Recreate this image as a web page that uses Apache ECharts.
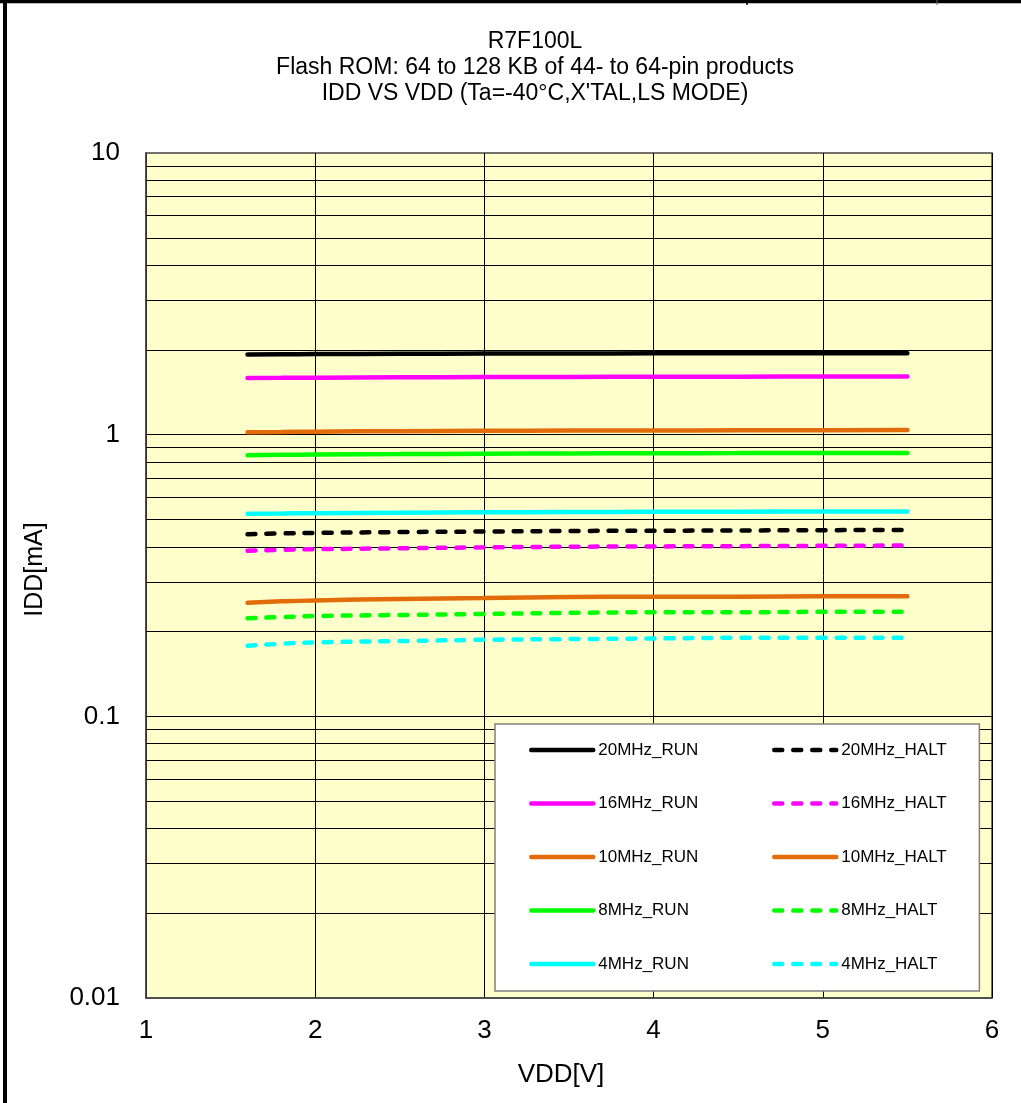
<!DOCTYPE html>
<html>
<head>
<meta charset="utf-8">
<script src="https://cdn.jsdelivr.net/npm/echarts@6/dist/echarts.min.js"></script>
<style>
html,body{margin:0;padding:0;background:#fff;}
#chart{width:1021px;height:1103px;}
</style>
</head>
<body>
<div id="chart"></div>
<script>
var vdd = [1.6, 1.8, 2.0, 2.5, 3.0, 3.5, 4.0, 4.5, 5.0, 5.5];
var run20  = [1.927, 1.930, 1.933, 1.937, 1.940, 1.942, 1.944, 1.945, 1.946, 1.947];
var run16  = [1.588, 1.591, 1.594, 1.598, 1.601, 1.603, 1.605, 1.607, 1.608, 1.609];
var run10  = [1.019, 1.022, 1.025, 1.029, 1.032, 1.034, 1.035, 1.036, 1.037, 1.038];
var run8   = [0.845, 0.848, 0.850, 0.853, 0.856, 0.858, 0.859, 0.860, 0.861, 0.861];
var run4   = [0.524, 0.525, 0.526, 0.528, 0.530, 0.531, 0.532, 0.533, 0.534, 0.534];
var halt20 = [0.443, 0.446, 0.448, 0.451, 0.453, 0.455, 0.456, 0.457, 0.458, 0.459];
var halt16 = [0.387, 0.390, 0.392, 0.395, 0.398, 0.400, 0.401, 0.402, 0.403, 0.404];
var halt10 = [0.253, 0.256, 0.258, 0.261, 0.263, 0.265, 0.266, 0.266, 0.267, 0.267];
var halt8  = [0.223, 0.225, 0.227, 0.229, 0.231, 0.233, 0.234, 0.234, 0.235, 0.235];
var halt4  = [0.178, 0.181, 0.183, 0.185, 0.187, 0.188, 0.189, 0.190, 0.190, 0.190];
var gridValues = [0.02,0.03,0.04,0.05,0.06,0.07,0.08,0.09,0.1,0.2,0.3,0.4,0.5,0.6,0.7,0.8,0.9,1,2,3,4,5,6,7,8,9];
var xTicks = [1, 2, 3, 4, 5, 6];
var yTicks = [0.01, 0.1, 1, 10];

var FONT = 'Liberation Sans, Arial, sans-serif';
var DASH = [8, 11];
var XMIN = xTicks[0], XMAX = xTicks[xTicks.length - 1];
var BOX = { left: 495, top: 724, width: 484, height: 267 };

function pairs(ys) { return vdd.map(function (x, i) { return [x, ys[i]]; }); }
function mk(name, ys, color, dashed) {
  return {
    name: name, type: 'line', data: pairs(ys), smooth: true,
    showSymbol: false, symbol: 'none', z: 3,
    lineStyle: { color: color, width: 4.5, type: dashed ? DASH : 'solid', cap: 'round' },
    itemStyle: { color: color }
  };
}
var legendCommon = {
  orient: 'vertical',
  itemWidth: 62, itemHeight: 14, itemGap: 33.5,
  itemStyle: { opacity: 0, color: 'rgba(0,0,0,0)', borderWidth: 0 },
  lineStyle: { width: 4.5 },
  textStyle: { fontFamily: FONT, fontSize: 17, color: '#000', lineHeight: 20 }
};

// horizontal grid lines; those crossing the legend box are split around it
function gridLines(inBox, xb1, xb2) {
  var out = [];
  gridValues.forEach(function (v) {
    if (inBox && inBox(v)) {
      out.push({ coords: [[XMIN, v], [xb1, v]] });
      out.push({ coords: [[xb2, v], [XMAX, v]] });
    } else {
      out.push({ coords: [[XMIN, v], [XMAX, v]] });
    }
  });
  return out;
}

var chart = echarts.init(document.getElementById('chart'), null, { renderer: 'canvas' });
var option = {
  backgroundColor: '#ffffff',
  animation: false,
  title: {
    text: "R7F100L\nFlash ROM: 64 to 128 KB of 44- to 64-pin products\nIDD VS VDD (Ta=-40°C,X'TAL,LS MODE)",
    left: 535, textAlign: 'center', top: 29, padding: 0,
    textStyle: { fontFamily: FONT, fontSize: 23, fontWeight: 'normal', lineHeight: 26, color: '#000' }
  },
  grid: {
    left: 146, right: 29, top: 153, bottom: 105,
    show: true, backgroundColor: '#FFFFCC', borderColor: '#444', borderWidth: 1.5
  },
  xAxis: {
    type: 'value', min: XMIN, max: XMAX, interval: 1,
    name: 'VDD[V]', nameLocation: 'middle', nameGap: 64,
    nameTextStyle: { fontFamily: FONT, fontSize: 26, color: '#000', padding: [0, 16, 0, 0] },
    axisLine: { show: true, lineStyle: { color: '#444', width: 1.5 } },
    axisTick: { show: false },
    axisLabel: { fontFamily: FONT, fontSize: 26, color: '#000', margin: 20 },
    splitLine: { show: true, lineStyle: { color: '#000', width: 1 } }
  },
  yAxis: {
    type: 'log', logBase: 10, min: yTicks[0], max: yTicks[yTicks.length - 1],
    name: 'IDD[mA]', nameLocation: 'middle', nameGap: 98, nameRotate: 90,
    nameTextStyle: { fontFamily: FONT, fontSize: 25, color: '#000', padding: [0, 0, 0, 12] },
    axisLine: { show: true, lineStyle: { color: '#444', width: 1.5 } },
    axisTick: { show: false },
    axisLabel: {
      fontFamily: FONT, fontSize: 26, color: '#000', margin: 26,
      formatter: function (v) { return String(+v.toPrecision(3)); }
    },
    splitLine: { show: false }
  },
  legend: [
    Object.assign({}, legendCommon, {
      data: ['20MHz_RUN', '16MHz_RUN', '10MHz_RUN', '8MHz_RUN', '4MHz_RUN'],
      left: BOX.left, top: BOX.top, z: 6,
      padding: [16, 281, 17, 34],
      backgroundColor: '#ffffff', borderColor: '#808080', borderWidth: 1.5
    }),
    Object.assign({}, legendCommon, {
      data: ['20MHz_HALT', '16MHz_HALT', '10MHz_HALT', '8MHz_HALT', '4MHz_HALT'],
      left: 772, top: 740, z: 8, padding: 0
    })
  ],
  graphic: {
    elements: [
      { type: 'line', shape: { x1: 5, y1: 0, x2: 5, y2: 1103 },
        style: { stroke: '#000', lineWidth: 4 } },
      { type: 'line', shape: { x1: 0, y1: 1.5, x2: 1021, y2: 1.5 },
        style: { stroke: '#000', lineWidth: 3.5 } },
      { type: 'line', shape: { x1: 747, y1: 0, x2: 747, y2: 5 },
        style: { stroke: '#000', lineWidth: 1.5 } },
      { type: 'line', shape: { x1: 937, y1: 0, x2: 937, y2: 5 },
        style: { stroke: '#666', lineWidth: 1 } }
    ]
  },
  series: [
    {
      id: 'hgrid', name: 'hgrid', type: 'lines', coordinateSystem: 'cartesian2d',
      z: 1, silent: true, polyline: false,
      lineStyle: { color: '#000', width: 1, opacity: 1, type: 'solid', curveness: 0 },
      data: gridLines(null)
    },
    mk('20MHz_RUN', run20, '#000000', false),
    mk('20MHz_HALT', halt20, '#000000', true),
    mk('16MHz_RUN', run16, '#FF00FF', false),
    mk('16MHz_HALT', halt16, '#FF00FF', true),
    mk('10MHz_RUN', run10, '#E36C0A', false),
    mk('10MHz_HALT', halt10, '#E36C0A', false),
    mk('8MHz_RUN', run8, '#00FF00', false),
    mk('8MHz_HALT', halt8, '#00FF00', true),
    mk('4MHz_RUN', run4, '#00FFFF', false),
    mk('4MHz_HALT', halt4, '#00FFFF', true)
  ]
};
chart.setOption(option);

// split grid lines around the legend box, using the chart's own scales
try {
  var xb1 = chart.convertFromPixel({ xAxisIndex: 0 }, BOX.left);
  var xb2 = chart.convertFromPixel({ xAxisIndex: 0 }, BOX.left + BOX.width);
  var inBox = function (v) {
    var py = chart.convertToPixel({ yAxisIndex: 0 }, v);
    return py >= BOX.top && py <= BOX.top + BOX.height;
  };
  if (isFinite(xb1) && isFinite(xb2)) {
    chart.setOption({ series: [{ id: 'hgrid', data: gridLines(inBox, xb1, xb2) }] });
  }
} catch (e) {}
</script>
</body>
</html>
